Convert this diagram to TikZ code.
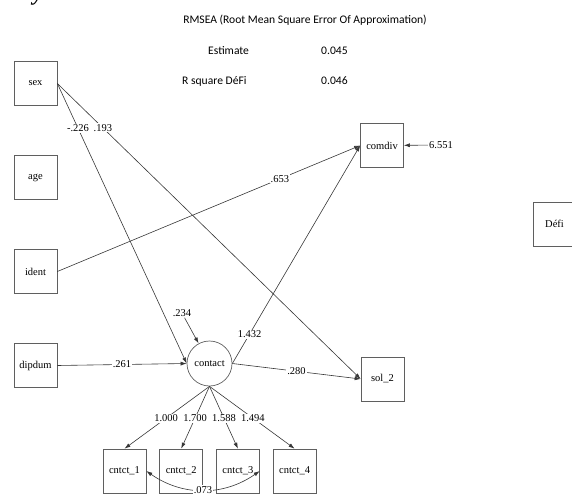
\documentclass[tikz,border=0pt]{standalone}
\usepackage{fontspec}
\setmainfont{Liberation Serif}
\newfontfamily\calibri{Carlito}
\usetikzlibrary{arrows.meta}
\definecolor{linecolor}{RGB}{55,55,55}
\definecolor{boxcolor}{RGB}{95,95,95}

\begin{document}
\begin{tikzpicture}[x=1pt, y=-1pt, node distance=94pt]
    % Define styles
    \tikzstyle{observed} = [rectangle, draw=boxcolor, line width=0.7pt, minimum width=43pt, minimum height=44pt, inner sep=1pt, font=\fontsize{10.5}{12}\selectfont]
    \tikzstyle{latent} = [circle, draw=boxcolor, line width=0.7pt, minimum size=45pt, inner sep=0pt, font=\fontsize{10.5}{12}\selectfont]
    \tikzstyle{coef} = [fill=white, inner sep=1pt, font=\fontsize{10.5}{12}\selectfont]
    \tikzstyle{info} = [inner sep=0pt, font=\calibri\fontsize{11.6}{14}\selectfont]
    \tikzstyle{arrow} = [line width=0.6pt, draw=linecolor, -{Latex[length=6pt,width=4pt]}]
    \tikzstyle{doublearrow} = [line width=0.6pt, draw=linecolor, {Latex[length=6pt,width=4pt]}-{Latex[length=6pt,width=4pt]}]

    \useasboundingbox (0,0) rectangle (572,501);

    % Header
    \node [anchor=base, inner sep=0pt, font=\fontsize{22}{24}\selectfont\bfseries\itshape] (headfrag) at (38,0.5) {y};
    \node [info] (rmsea) at (305,20) {RMSEA (Root Mean Square Error Of Approximation)};
    \node [info, anchor=west] (estlabel) at (208,51) {Estimate};
    \node [info, anchor=west] (estvalue) at (321,51) {0.045};
    \node [info, anchor=west] (rsqlabel) at (182,81) {R square DéFi};
    \node [info, anchor=west] (rsqvalue) at (321,81) {0.046};

    % Nodes
    \node [observed] (sex) at (35.5,83.5) {sex};
    \node [observed, below of=sex] (age) {age};
    \node [observed, below of=age] (ident) {ident};
    \node [observed, below of=ident] (dipdum) {dipdum};
    \node [latent] (contact) at (209.5,363.5) {contact};
    \node [observed] (comdiv) at (382,145.5) {comdiv};
    \node [observed] (sol2) at (382.5,379) {sol\_2};
    \node [observed] (defi) at (554.5,224) {Défi};
    \node [observed] (cntct1) at (124.5,471) {cntct\_1};
    \node [observed, node distance=56.7pt, right of=cntct1] (cntct2) {cntct\_2};
    \node [observed, node distance=56.7pt, right of=cntct2] (cntct3) {cntct\_3};
    \node [observed, node distance=56.7pt, right of=cntct3] (cntct4) {cntct\_4};
    \node [coef] (res234) at (182,313) {.234};
    \node [coef] (res6551) at (441,145) {6.551};

    % Arrows
    \draw [arrow] (sex.east) -- node[coef, pos=0.16] {-.226} (contact.west);
    \draw [arrow] (sex.east) -- node[coef, pos=0.15] {.193} (sol2.west);
    \draw [arrow] (ident.east) -- node[coef, pos=0.735] {.653} (comdiv.west);
    \draw [arrow] (dipdum.east) -- node[coef] {.261} (contact.west);
    \draw [arrow] (res234) -- (contact);
    \draw [arrow] (contact.east) -- node[coef, pos=0.135] {1.432} (comdiv.west);
    \draw [arrow] (contact.east) -- node[coef] {.280} (sol2.west);
    \draw [arrow] (res6551) -- (comdiv);
    \draw [arrow] (contact.south) -- node[coef, pos=0.51] {1.000} (cntct1.north);
    \draw [arrow] (contact.south) -- node[coef, pos=0.51] {1.700} (cntct2.north);
    \draw [arrow] (contact.south) -- node[coef, pos=0.51] {1.588} (cntct3.north);
    \draw [arrow] (contact.south) -- node[coef, pos=0.51] {1.494} (cntct4.north);
    \draw [doublearrow] (cntct1.east) to[out=-35, in=-145] node[coef] {.073} (cntct3.east);
\end{tikzpicture}
\end{document}
